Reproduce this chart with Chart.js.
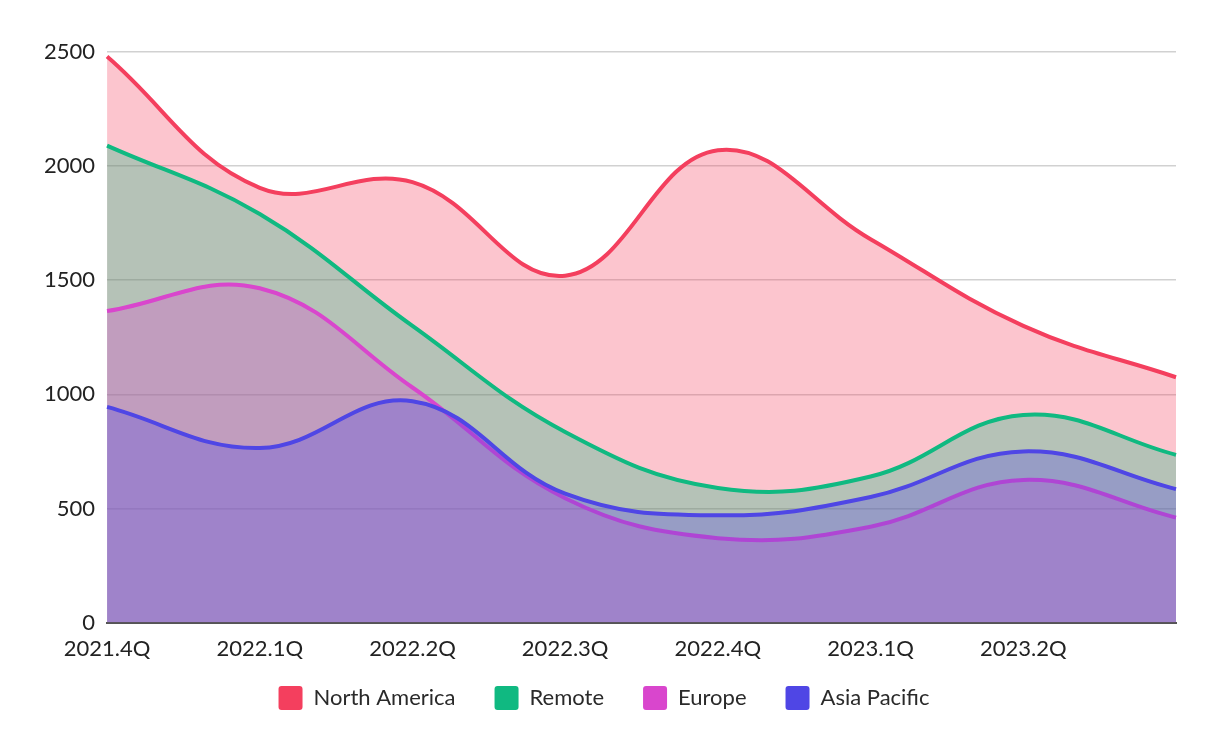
<!DOCTYPE html>
<html>
<head>
<meta charset="utf-8">
<script src="https://cdn.jsdelivr.net/npm/chart.js@4"></script>
<style>
  html, body { margin: 0; padding: 0; background: #fff; }
  #wrap { width: 1218px; height: 734px; }
</style>
</head>
<body>
<div id="wrap"><canvas id="chart"></canvas></div>
<script>
const quarters = ['2021.4Q', '2022.1Q', '2022.2Q', '2022.3Q', '2022.4Q', '2023.1Q', '2023.2Q', '2023.3Q'];

const northAmerica = [2480, 1905, 1930, 1520, 2070, 1680, 1300, 1075];
const remote = [2090, 1790, 1300, 835, 590, 640, 910, 735];
const europe = [1365, 1465, 1030, 545, 370, 420, 625, 460];
const asiaPacific = [945, 765, 970, 565, 470, 550, 750, 585];

const yTicks = [0, 500, 1000, 1500, 2000, 2500];

// rgb triplets, the area uses the same colour with alpha
const colors = {
  'North America': '244, 63, 94',
  'Remote': '16, 185, 129',
  'Europe': '217, 70, 205',
  'Asia Pacific': '79, 70, 229',
};

const makeSet = (label, data) => ({
  label,
  data,
  borderColor: `rgb(${colors[label]})`,
  backgroundColor: `rgba(${colors[label]}, 0.3)`,
  fill: 'origin',
  tension: 0.4,
  borderWidth: 4,
  pointRadius: 0,
  pointHoverRadius: 0,
});

// Asia Pacific is painted last (on top), so it goes first in the list;
// the legend is sorted back to the original order
const datasets = [
  makeSet('Asia Pacific', asiaPacific),
  makeSet('Europe', europe),
  makeSet('Remote', remote),
  makeSet('North America', northAmerica),
];

// legend padding is wide between items, but that also adds space above the row;
// the box is made shorter for the layout and given its old top back when drawn
const LEGEND_SHIFT = 28;
const legendShift = {
  id: 'legendShift',
  beforeInit(chart) {
    const legend = chart.legend;
    const fit = legend.fit;
    legend.fit = function () {
      fit.call(this);
      this.height -= LEGEND_SHIFT;
    };
    const draw = legend.draw;
    legend.draw = function (...args) {
      this.top -= LEGEND_SHIFT;
      draw.apply(this, args);
      this.top += LEGEND_SHIFT;
    };
  },
};

const ctx = document.getElementById('chart').getContext('2d');
new Chart(ctx, {
  type: 'line',
  data: { labels: quarters, datasets },
  plugins: [legendShift],
  options: {
    responsive: true,
    maintainAspectRatio: false,
    animation: false,
    layout: { padding: { left: 32, right: 42, top: 52, bottom: 14 } },
    plugins: {
      tooltip: { enabled: false },
      legend: {
        position: 'bottom',
        labels: {
          font: { family: 'Lato', size: 22 },
          color: '#2a2a2a',
          boxWidth: 24,
          boxHeight: 24,
          padding: 39,
          useBorderRadius: true,
          borderRadius: 3,
          sort: (a, b) => b.datasetIndex - a.datasetIndex,
          generateLabels: chart => {
            const items = Chart.defaults.plugins.legend.labels.generateLabels(chart);
            items.forEach(item => {
              item.fillStyle = item.strokeStyle;
              item.lineWidth = 0;
            });
            return items;
          },
        },
      },
    },
    scales: {
      x: {
        offset: false,
        grid: { display: false, drawTicks: false },
        border: { display: true, color: '#555', width: 2 },
        ticks: {
          font: { family: 'Lato', size: 22 },
          color: '#222',
          padding: 13,
          maxRotation: 0,
          autoSkip: false,
          // last quarter has no label in the original
          callback: (value, index) => (index === quarters.length - 1 ? '' : quarters[index]),
        },
      },
      y: {
        min: 0,
        max: 2500,
        afterBuildTicks: axis => {
          axis.ticks = yTicks.map(v => ({ value: v }));
        },
        grid: { color: 'rgba(0, 0, 0, 0.18)', lineWidth: 1.5, drawTicks: false },
        border: { display: false },
        ticks: {
          font: { family: 'Lato', size: 22 },
          color: '#222',
          padding: 12,
          callback: value => String(value),
        },
      },
    },
  },
});
</script>
</body>
</html>
